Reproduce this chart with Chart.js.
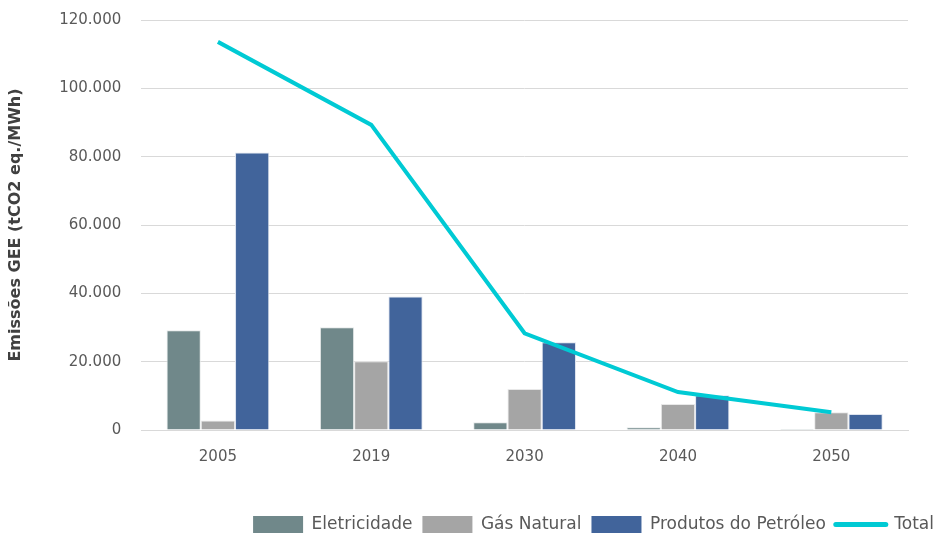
<!DOCTYPE html>
<html>
<head>
<meta charset="utf-8">
<script src="https://cdn.jsdelivr.net/npm/chart.js@4/dist/chart.umd.min.js"></script>
<style>
  html, body { margin: 0; padding: 0; background: #fff; }
  #wrap { width: 936px; height: 533px; }
</style>
</head>
<body>
<div id="wrap"><canvas id="chart"></canvas></div>
<script>
// Emissões GEE por fonte
const years = ['2005', '2019', '2030', '2040', '2050'];
const eletricidade = [29200, 30100, 2300, 800, 300];
const gasNatural = [2800, 20100, 12000, 7600, 5200];
const produtosPetroleo = [81200, 39100, 25700, 10200, 4700];
const total = [113600, 89300, 28300, 11100, 5200];
const yTicks = [0, 20000, 40000, 60000, 80000, 100000, 120000];

const FONT = 'DejaVu Sans';
const GREY = '#595959';

function fmt(v) {
    return String(v).replace(/\B(?=(\d{3})+(?!\d))/g, '.');
}

const ctx = document.getElementById('chart').getContext('2d');
new Chart(ctx, {
    data: {
        labels: years,
        datasets: [
            {
                type: 'line',
                label: 'Total',
                data: total,
                borderColor: '#00CAD4',
                backgroundColor: '#00CAD4',
                borderWidth: 4,
                pointRadius: 0,
                tension: 0,
                order: 0
            },
            {
                type: 'bar',
                label: 'Eletricidade',
                data: eletricidade,
                backgroundColor: '#70888A',
                borderColor: '#E6EAEA',
                borderWidth: 1,
                order: 1
            },
            {
                type: 'bar',
                label: 'Gás Natural',
                data: gasNatural,
                backgroundColor: '#A5A5A5',
                borderColor: '#E8E8E8',
                borderWidth: 1,
                order: 1
            },
            {
                type: 'bar',
                label: 'Produtos do Petróleo',
                data: produtosPetroleo,
                backgroundColor: '#41649B',
                borderColor: '#DDE3EE',
                borderWidth: 1,
                order: 1
            }
        ]
    },
    options: {
        responsive: true,
        maintainAspectRatio: false,
        animation: false,
        layout: { padding: { left: 6, right: -8, top: 20, bottom: -10 } },
        datasets: {
            bar: { categoryPercentage: 0.67, barPercentage: 1.0 }
        },
        plugins: {
            legend: {
                position: 'bottom',
                align: 'end',
                title: {
                    display: true,
                    text: ' ',
                    font: { size: 10 },
                    padding: { top: 18, bottom: 0 }
                },
                labels: {
                    color: GREY,
                    font: { family: FONT, size: 17 },
                    usePointStyle: true,
                    pointStyleWidth: 50,
                    boxHeight: 17,
                    padding: 10,
                    generateLabels: (chart) => {
                        const items = Chart.defaults.plugins.legend.labels.generateLabels(chart);
                        items.forEach(it => {
                            const ds = chart.data.datasets[it.datasetIndex];
                            if (ds.type === 'line') {
                                it.pointStyle = 'line';
                                it.strokeStyle = ds.borderColor;
                                it.lineWidth = 5;
                                it.lineCap = 'round';
                            } else {
                                it.pointStyle = 'rect';
                                it.lineWidth = 0;
                                it.strokeStyle = ds.backgroundColor;
                            }
                        });
                        // bars first, total last
                        return items.sort((a, b) => {
                            const la = chart.data.datasets[a.datasetIndex].type === 'line' ? 1 : 0;
                            const lb = chart.data.datasets[b.datasetIndex].type === 'line' ? 1 : 0;
                            return la - lb || a.datasetIndex - b.datasetIndex;
                        });
                    }
                }
            },
            tooltip: { enabled: false }
        },
        scales: {
            x: {
                grid: { display: false },
                border: { color: '#D9D9D9', width: 1 },
                ticks: {
                    color: GREY,
                    font: { family: FONT, size: 15 },
                    padding: 10
                }
            },
            y: {
                min: 0,
                max: 120000,
                afterBuildTicks: (axis) => {
                    axis.ticks = yTicks.map(v => ({ value: v }));
                },
                afterFit: (axis) => { axis.paddingTop = 0; },
                grid: { color: '#D9D9D9', lineWidth: 1, drawTicks: false },
                border: { display: false },
                ticks: {
                    color: GREY,
                    font: { family: FONT, size: 15 },
                    padding: 20,
                    callback: (v) => fmt(v)
                },
                title: {
                    display: true,
                    text: 'Emissões GEE (tCO2 eq./MWh)',
                    color: '#404040',
                    font: { family: FONT, size: 16, weight: 'bold' },
                    padding: { top: 0, bottom: 14 }
                }
            },
            // empty right margin
            yRight: {
                position: 'right',
                display: true,
                grid: { display: false },
                border: { display: false },
                ticks: { display: false },
                afterFit: (axis) => { axis.width = 36; }
            }
        }
    }
});
</script>
</body>
</html>
